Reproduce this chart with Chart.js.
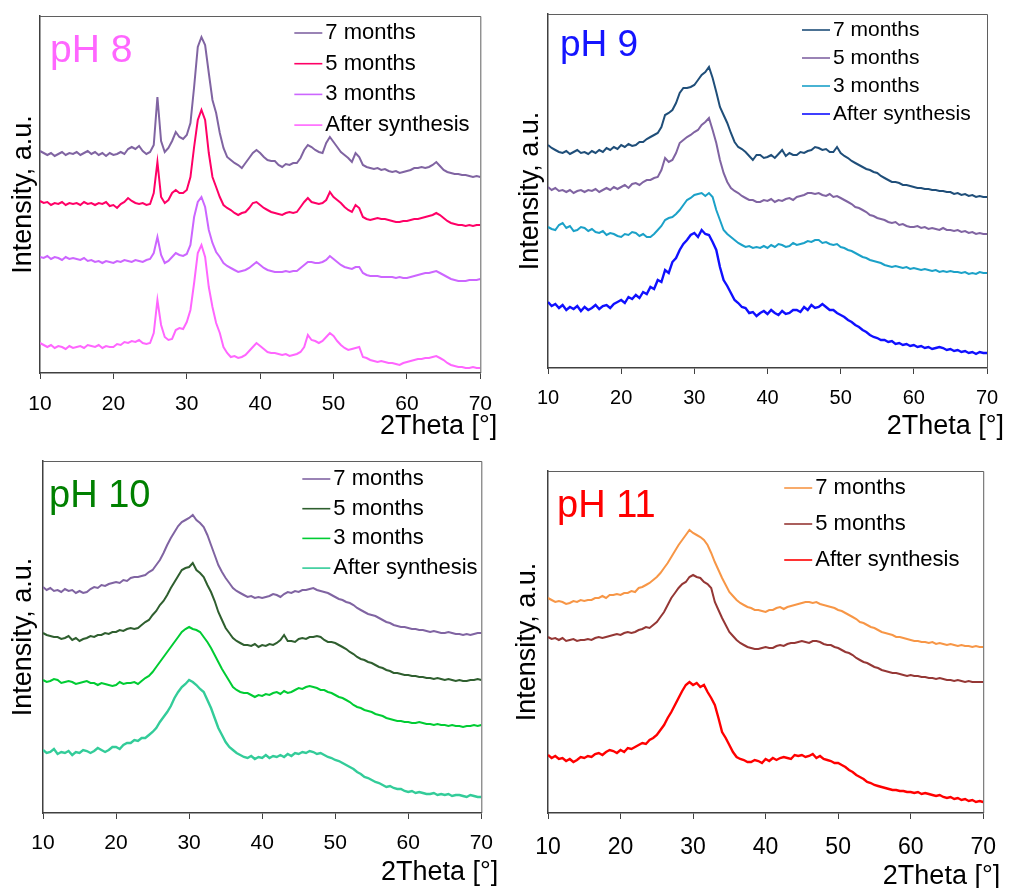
<!DOCTYPE html>
<html>
<head>
<meta charset="utf-8">
<title>XRD patterns vs. ageing time</title>
<script src="https://cdn.jsdelivr.net/npm/chart.js@4.4.1/dist/chart.umd.min.js"></script>
<style>
  html, body { margin: 0; padding: 0; background: #fff; }
  #page { position: relative; width: 1011px; height: 888px; overflow: hidden; }
  .panel { position: absolute; }
</style>
</head>
<body>
<div id="page">
  <div class="panel" style="left:0;top:0;width:505px;height:445px"><canvas id="ph8"></canvas></div>
  <div class="panel" style="left:505px;top:0;width:506px;height:445px"><canvas id="ph9"></canvas></div>
  <div class="panel" style="left:0;top:445px;width:505px;height:443px"><canvas id="ph10"></canvas></div>
  <div class="panel" style="left:505px;top:445px;width:506px;height:443px"><canvas id="ph11"></canvas></div>
</div>
<script>
// 2theta grid shared by all patterns (degrees)
const theta = [
  10,10.5,11,11.5,12,12.5,13,13.5,14,14.5,
  15,15.5,16,16.5,17,17.5,18,18.5,19,19.5,
  20,20.5,21,21.5,22,22.5,23,23.5,24,24.5,
  25,25.5,26,26.5,27,27.5,28,28.5,29,29.5,
  30,30.5,31,31.5,32,32.5,33,33.5,34,34.5,
  35,35.5,36,36.5,37,37.5,38,38.5,39,39.5,
  40,40.5,41,41.5,42,42.5,43,43.5,44,44.5,
  45,45.5,46,46.5,47,47.5,48,48.5,49,49.5,
  50,50.5,51,51.5,52,52.5,53,53.5,54,54.5,
  55,55.5,56,56.5,57,57.5,58,58.5,59,59.5,
  60,60.5,61,61.5,62,62.5,63,63.5,64,64.5,
  65,65.5,66,66.5,67,67.5,68,68.5,69,69.5,
  70
];

const ageLabels4 = ['7 months', '5 months', '3 months', 'After synthesis'];
const ageLabels3 = ['7 months', '5 months', 'After synthesis'];

// intensities (a.u., stacked with offsets)
// pH 8
const ph8_7m = [
  222,220,218,220,217,219,221,218,220,219,
  221,218,220,222,219,221,218,220,217,220,
  218,219,221,219,224,226,224,227,222,219,
  221,228,276,232,221,225,232,241,236,234,
  238,250,286,326,336,328,300,273,260,240,
  225,216,213,210,208,205,210,215,220,223,
  220,216,213,212,212,208,206,209,208,210,
  210,215,223,228,226,223,221,220,230,236,
  231,226,221,218,215,211,220,216,208,206,
  205,204,205,203,204,202,201,202,200,201,
  202,203,205,205,206,205,206,208,211,207,
  203,201,200,199,199,198,198,197,196,197,
  196
];
const ph8_5m = [
  172,170,171,168,170,169,171,168,170,169,
  170,168,171,169,170,168,170,169,171,167,
  168,165,169,171,175,172,170,169,170,168,
  169,180,211,176,170,173,180,183,180,180,
  183,196,226,253,263,253,220,196,186,176,
  168,165,163,160,158,160,161,165,170,171,
  168,165,163,161,160,159,158,160,161,160,
  161,166,171,175,171,170,169,170,173,181,
  176,173,170,166,163,161,168,165,156,154,
  153,154,155,154,154,153,152,151,151,152,
  152,153,154,154,155,156,157,158,160,158,
  155,152,150,149,148,148,147,148,147,148,
  148
];
const ph8_3m = [
  116,115,117,114,116,115,113,116,114,115,
  114,113,115,112,113,111,112,110,112,111,
  110,112,111,113,112,111,113,112,111,113,
  114,120,136,118,110,112,116,120,118,117,
  119,128,156,171,176,166,143,130,121,116,
  110,107,105,103,101,102,103,105,108,111,
  108,105,103,102,101,101,101,102,101,102,
  102,105,108,111,111,110,110,111,113,117,
  114,111,108,106,105,104,106,106,100,98,
  97,97,97,96,96,96,96,95,96,95,
  95,96,97,98,99,100,100,101,102,100,
  98,96,94,93,92,92,92,93,93,93,
  94
];
const ph8_as = [
  30,28,26,28,25,27,26,24,27,25,
  26,27,25,28,27,26,28,25,27,26,
  26,29,28,31,30,32,31,33,30,29,
  30,40,73,48,36,33,34,43,45,44,
  51,63,90,120,128,116,86,66,50,40,
  26,20,16,17,15,16,18,22,26,30,
  27,24,21,20,20,19,18,19,17,18,
  19,21,26,38,33,32,30,32,36,40,
  37,32,28,25,23,24,25,26,16,15,
  13,12,11,12,11,10,10,9,8,10,
  11,12,13,14,14,15,15,16,17,15,
  13,10,8,7,6,6,5,5,6,5,
  5
];

// pH 9
const ph9_7m = [
  223,220,218,216,215,217,214,216,218,215,
  216,214,217,215,218,216,220,218,221,219,
  223,221,224,222,223,226,226,229,231,233,
  235,241,253,255,258,265,275,280,280,281,
  283,288,293,296,301,290,276,261,253,245,
  235,226,221,219,216,212,208,213,213,210,
  211,213,210,214,218,212,215,213,213,216,
  215,217,218,221,220,218,219,216,216,221,
  215,212,210,207,205,203,201,199,198,196,
  195,192,190,188,186,186,185,183,183,182,
  181,180,180,179,179,178,178,177,177,176,
  176,174,175,173,174,172,173,171,172,171,
  171
];
const ph9_5m = [
  181,178,180,177,178,176,178,175,177,178,
  176,178,177,179,176,178,180,178,181,179,
  181,183,180,184,185,183,186,188,188,190,
  191,198,210,206,208,215,225,228,231,233,
  236,238,243,246,250,238,225,208,195,186,
  180,177,175,172,170,168,168,166,166,168,
  167,169,166,168,167,169,170,168,171,172,
  173,175,175,174,175,173,172,174,171,172,
  170,168,166,164,161,160,158,156,153,152,
  150,149,148,146,145,146,143,144,142,141,
  141,142,140,141,139,140,139,138,140,138,
  138,137,138,136,137,135,136,134,135,134,
  134
];
const ph9_3m = [
  141,139,138,143,145,140,142,137,138,141,
  140,137,139,136,135,137,133,135,134,132,
  131,134,133,136,135,132,134,131,131,134,
  138,142,148,150,151,154,158,163,168,170,
  173,174,175,172,175,171,158,148,138,134,
  131,128,125,123,121,122,120,121,120,122,
  120,123,121,124,123,121,122,125,123,124,
  125,127,126,128,128,125,126,124,123,124,
  121,120,118,117,115,113,111,110,108,107,
  106,105,103,102,101,102,101,100,101,99,
  100,99,98,99,98,97,98,96,97,96,
  97,96,96,95,96,94,95,94,96,95,
  95
];
const ph9_as = [
  66,62,64,60,63,58,61,59,62,57,
  61,58,60,63,59,62,63,60,64,66,
  68,65,71,69,73,70,76,74,81,79,
  88,86,98,95,106,110,118,124,128,133,
  135,131,138,134,133,126,118,101,88,82,
  75,68,65,61,60,55,56,52,55,57,
  54,58,55,53,57,54,55,58,58,56,
  61,58,63,60,61,64,61,58,58,55,
  53,51,48,46,43,41,38,36,33,31,
  30,28,28,26,27,24,25,23,24,22,
  23,21,22,20,21,19,20,21,20,18,
  19,17,18,16,17,15,16,14,16,15,
  15
];

// pH 10
const ph10_7m = [
  226,223,225,222,223,221,224,222,223,220,
  222,220,221,224,226,225,228,227,229,230,
  231,230,233,232,235,236,236,237,238,241,
  243,248,253,260,268,275,281,287,291,293,
  295,298,293,290,286,278,268,258,248,241,
  235,230,225,222,220,218,216,217,215,216,
  215,216,217,219,218,216,219,221,220,222,
  221,223,223,224,225,223,222,221,220,218,
  216,214,213,211,210,208,205,203,201,199,
  198,197,195,193,191,190,188,187,186,186,
  185,184,184,183,183,182,181,182,181,180,
  180,181,180,179,179,178,179,178,179,180,
  180
];
const ph10_5m = [
  180,178,177,176,176,174,175,177,173,175,
  172,174,175,177,176,178,178,180,179,181,
  181,183,182,184,185,184,185,188,191,193,
  198,202,208,212,218,225,231,237,243,245,
  246,250,243,240,236,228,221,212,201,193,
  185,180,175,172,170,168,168,167,169,166,
  168,167,169,168,170,173,178,172,172,171,
  174,175,174,176,176,177,176,173,171,171,
  170,168,166,164,161,159,156,154,153,151,
  150,148,146,145,143,142,140,140,139,138,
  138,137,137,136,136,135,135,134,135,134,
  133,134,133,132,133,132,132,133,133,134,
  133
];
const ph10_3m = [
  133,131,132,134,133,130,131,132,131,129,
  130,131,132,130,130,128,130,129,128,127,
  128,131,129,130,130,131,129,132,135,137,
  141,146,151,156,161,166,171,176,181,184,
  186,184,183,181,176,171,165,158,151,144,
  138,132,126,123,121,120,120,118,116,118,
  117,119,118,120,121,119,122,120,121,123,
  125,124,126,127,126,125,123,123,121,120,
  118,116,115,113,111,108,106,105,103,102,
  101,99,98,97,95,94,93,92,92,91,
  91,90,90,91,90,89,89,88,89,88,
  88,87,88,87,87,86,87,87,88,87,
  88
];
const ph10_as = [
  63,60,61,64,59,61,60,62,58,61,
  60,63,62,60,62,65,63,61,63,66,
  66,64,68,70,70,73,72,75,75,78,
  81,85,91,96,101,107,115,121,126,129,
  133,131,128,124,121,113,105,95,85,78,
  71,66,63,60,58,56,55,57,54,56,
  55,58,55,57,56,58,56,59,57,60,
  59,61,60,62,61,59,60,58,56,55,
  53,52,50,48,46,44,41,39,36,35,
  33,31,30,28,26,27,25,24,24,22,
  21,22,20,21,20,19,19,20,18,19,
  18,19,17,18,18,17,16,18,17,16,
  16
];

// pH 11
const ph11_7m = [
  215,213,211,212,211,209,210,212,211,213,
  212,213,213,215,215,217,215,218,218,219,
  218,220,220,222,221,225,226,228,230,233,
  236,240,245,250,256,262,268,273,278,283,
  280,278,276,273,268,260,251,243,235,228,
  221,217,213,210,208,206,205,203,203,202,
  201,203,203,205,206,204,206,207,208,209,
  210,211,211,210,211,209,208,207,206,205,
  203,202,200,198,196,194,191,190,188,186,
  185,183,181,180,179,178,176,176,175,174,
  173,172,172,171,171,170,171,169,170,169,
  168,169,168,167,168,167,167,166,167,166,
  166
];
const ph11_5m = [
  176,174,175,173,175,172,173,174,172,173,
  173,174,173,175,176,175,176,177,178,179,
  178,180,181,180,181,183,184,186,185,188,
  191,196,201,208,215,220,225,229,231,236,
  238,236,235,231,229,225,211,203,195,188,
  181,177,173,170,168,166,165,164,164,165,
  166,165,165,167,168,167,169,170,170,171,
  172,171,170,172,172,171,169,168,168,166,
  165,163,161,160,158,155,153,151,150,148,
  146,145,143,142,141,140,140,139,138,137,
  138,137,137,136,136,135,135,134,135,134,
  133,133,132,133,132,131,132,131,131,131,
  131
];
const ph11_as = [
  58,55,57,54,55,52,54,51,53,56,
  55,57,56,59,60,58,61,63,62,60,
  63,61,65,64,66,68,70,69,73,75,
  78,83,88,95,101,108,115,122,128,131,
  128,130,126,128,121,115,108,95,81,75,
  68,61,56,54,53,51,51,53,52,50,
  54,52,55,53,55,56,55,54,58,57,
  58,56,57,59,55,57,54,53,52,50,
  50,48,46,43,41,38,36,34,31,30,
  28,27,26,25,24,23,23,22,22,21,
  21,20,21,19,20,19,18,17,18,16,
  15,16,14,15,13,14,12,13,11,12,
  11
];

Chart.defaults.font.family = '"Liberation Sans", Arial, sans-serif';
Chart.defaults.color = '#000';

// frame, sample tag, legend and x caption drawn over each panel
const panelText = {
  id: 'panelText',
  afterDraw(chart, args, opts) {
    const { ctx, chartArea: a } = chart;
    const fam = Chart.defaults.font.family;
    ctx.save();

    ctx.strokeStyle = '#5f5f5f';
    ctx.lineWidth = 1;
    ctx.beginPath();
    ctx.moveTo(a.left, a.top + 0.5);
    ctx.lineTo(a.right + 0.5, a.top + 0.5);
    ctx.lineTo(a.right + 0.5, a.bottom);
    ctx.stroke();

    ctx.font = opts.tagSize + 'px ' + fam;
    ctx.fillStyle = opts.tagColor;
    ctx.textAlign = 'left';
    ctx.textBaseline = 'alphabetic';
    ctx.fillText(opts.tag, a.left + opts.tagX, a.top + opts.tagY);

    ctx.font = opts.legendSize + 'px ' + fam;
    ctx.textBaseline = 'middle';
    const lx = a.right - opts.legendRight;
    chart.data.datasets.forEach((ds, i) => {
      const y = a.top + opts.legendTop + i * opts.legendGap;
      ctx.strokeStyle = ds.borderColor;
      ctx.lineWidth = 1.6;
      ctx.beginPath();
      ctx.moveTo(lx, y);
      ctx.lineTo(lx + 28, y);
      ctx.stroke();
      ctx.fillStyle = '#000';
      ctx.fillText(ds.label, lx + 31, y);
    });

    ctx.font = '27px ' + fam;
    ctx.textAlign = 'right';
    ctx.fillText('2Theta [°]', a.right + 17, a.bottom + opts.captionY);
    ctx.restore();
  }
};

function makePanel(id, p) {
  new Chart(document.getElementById(id), {
    type: 'line',
    data: {
      datasets: p.series.map((values, i) => ({
        label: p.labels[i],
        data: theta.map((t, k) => ({ x: t, y: values[k] })),
        borderColor: p.colors[i],
        borderWidth: p.widths[i],
        pointRadius: 0,
        tension: 0
      }))
    },
    options: {
      responsive: true,
      maintainAspectRatio: false,
      animation: false,
      layout: { padding: { left: 0, top: p.top, right: p.right, bottom: 0 } },
      plugins: {
        legend: { display: false },
        tooltip: { enabled: false },
        panelText: p.text
      },
      scales: {
        x: {
          type: 'linear',
          min: 10,
          max: 70,
          afterFit: (s) => { s.height = p.xHeight; },
          ticks: { stepSize: 10, font: { size: p.tickSize }, padding: p.tickPad, color: '#000' },
          grid: { drawOnChartArea: false, tickLength: 6, color: '#404040' },
          border: { color: '#404040', width: 1.5 }
        },
        y: {
          min: 0,
          max: p.yMax,
          afterFit: (s) => { s.width = p.yWidth; },
          ticks: { display: false },
          grid: { display: false },
          border: { color: '#404040', width: 1.5 },
          title: {
            display: true,
            text: 'Intensity, a.u.',
            color: '#000',
            font: { size: 27 },
            padding: { top: p.yTitlePad, bottom: 0 }
          }
        }
      }
    },
    plugins: [panelText]
  });
}

makePanel('ph8', {
  series: [ph8_7m, ph8_5m, ph8_3m, ph8_as],
  labels: ageLabels4,
  colors: ['#8064A2', '#FF0066', '#CC66FF', '#FF66FF'],
  widths: [2, 2, 2, 2],
  top: 16, right: 22, yWidth: 40, xHeight: 72, yMax: 357,
  tickSize: 21, tickPad: 13, yTitlePad: 7,
  text: { tag: 'pH 8', tagColor: '#FF66FF', tagSize: 39, tagX: 10, tagY: 46,
          legendSize: 22, legendRight: 186, legendTop: 17, legendGap: 30.7, captionY: 54 }
});

makePanel('ph9', {
  series: [ph9_7m, ph9_5m, ph9_3m, ph9_as],
  labels: ageLabels4,
  colors: ['#1F4E79', '#8064A2', '#1BA1C8', '#1010FF'],
  widths: [2, 2, 2, 2.4],
  top: 14, right: 24, yWidth: 43, xHeight: 77, yMax: 354,
  tickSize: 20, tickPad: 12, yTitlePad: 9,
  text: { tag: 'pH 9', tagColor: '#1414FF', tagSize: 37, tagX: 12, tagY: 42,
          legendSize: 21, legendRight: 185, legendTop: 16, legendGap: 28, captionY: 59 }
});

makePanel('ph10', {
  series: [ph10_7m, ph10_5m, ph10_3m, ph10_as],
  labels: ageLabels4,
  colors: ['#8064A2', '#2F5F2F', '#00CC33', '#33CC99'],
  widths: [2, 2, 2, 2.4],
  top: 16, right: 21, yWidth: 43, xHeight: 75, yMax: 352,
  tickSize: 21, tickPad: 12, yTitlePad: 7,
  text: { tag: 'pH 10', tagColor: '#008000', tagSize: 38, tagX: 6, tagY: 46,
          legendSize: 22, legendRight: 179, legendTop: 18, legendGap: 29.7, captionY: 60 }
});

makePanel('ph11', {
  series: [ph11_7m, ph11_5m, ph11_as],
  labels: ageLabels3,
  colors: ['#F79646', '#953735', '#FF0000'],
  widths: [2, 2, 2.4],
  top: 26, right: 15, yWidth: 43, xHeight: 75, yMax: 342,
  tickSize: 23, tickPad: 15, yTitlePad: 6,
  text: { tag: 'pH 11', tagColor: '#FF0000', tagSize: 38, tagX: 9, tagY: 46,
          legendSize: 22, legendRight: 199, legendTop: 17, legendGap: 36, captionY: 64 }
});
</script>
</body>
</html>
